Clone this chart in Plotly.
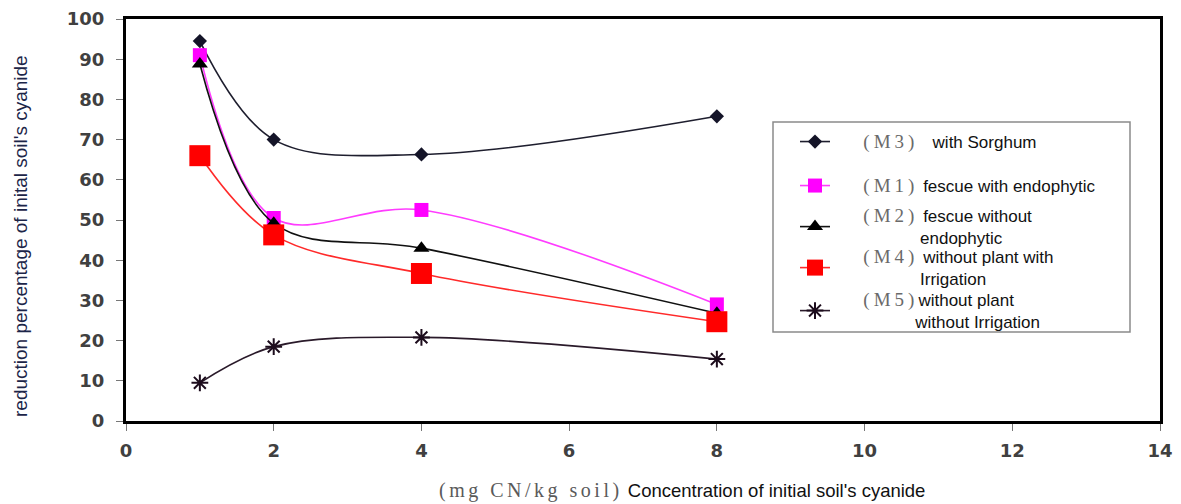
import plotly.graph_objects as go

# ---- data ----
conc = [1, 2, 4, 8]  # mg CN / kg soil
m3_sorghum = [94.5, 70.0, 66.3, 75.8]
m1_fescue_endo = [91.0, 50.5, 52.5, 29.0]
m2_fescue_noendo = [88.8, 49.2, 43.0, 26.8]
m4_noplant_irr = [66.0, 46.3, 36.7, 24.7]
m5_noplant_noirr = [9.5, 18.5, 20.8, 15.4]

x_ticks = [0, 2, 4, 6, 8, 10, 12, 14]
y_ticks = [0, 10, 20, 30, 40, 50, 60, 70, 80, 90, 100]

NB = "\u00a0"
CODE_STYLE = "font-family:Liberation Serif, serif;color:#6a6a6a;font-size:19px;letter-spacing:4px"

def lab(code, first, second=None, pad=1, indent=18):
    s = (NB * 6 + "<span style='" + CODE_STYLE + "'>(" + code + ")</span>" + NB * pad + first)
    if second is not None:
        s += "<br>" + NB * indent + second
    return s

series = [
    dict(y=m3_sorghum, name=lab("M3", "with Sorghum", pad=3), color="#141428", lc="#1e1e2e",
         symbol="diamond", size=11, lw=1.6, leg="legend"),
    dict(y=m1_fescue_endo, name=lab("M1", "fescue with endophytic", pad=1), color="#ff00ff", lc="#ff3cff",
         symbol="square", size=14, lw=1.6, leg="legend2"),
    dict(y=m2_fescue_noendo, name=lab("M2", "fescue without", "endophytic", pad=1, indent=18),
         color="#000000", lc="#111111", symbol="triangle-up", size=14, lw=1.6, leg="legend3"),
    dict(y=m4_noplant_irr, name=lab("M4", "without plant with", "Irrigation", pad=1, indent=18),
         color="#ff0000", lc="#ff2a2a", symbol="square", size=21, lw=1.6, leg="legend4"),
    dict(y=m5_noplant_noirr, name=lab("M5", "without plant", "without Irrigation", pad=0, indent=17),
         color="#1c0c1c", lc="#2a1a2a", symbol="asterisk-open", size=14, lw=1.6, leg="legend5"),
]

fig = go.Figure()
for s in series:
    fig.add_trace(go.Scatter(
        x=conc, y=s["y"], name=s["name"], mode="lines+markers",
        line=dict(color=s["lc"], width=s["lw"], shape="spline", smoothing=1.0),
        marker=dict(symbol=s["symbol"], size=s["size"], color=s["color"],
                    line=dict(color=s["color"], width=2 if "asterisk" in s["symbol"] else 0)),
        legend=s["leg"],
    ))

# page body adds an 8px offset, so the figure is sized to fit the window after it
OFF = 8
W, H = 1181 - OFF, 504 - OFF
L, R, T, B = 126 - OFF, 21, 19 - OFF, 83
pw, ph = W - L - R, H - T - B

def px(xs):  # screen x -> paper
    return (xs - OFF - L) / pw

def py(ys):  # screen y -> paper
    return (H - B - (ys - OFF)) / ph

legend_font = dict(family="Liberation Sans, Arial, sans-serif", size=17, color="#111111")
leg_y = [142, 186, 227, 268, 311]
legend_names = ["legend", "legend2", "legend3", "legend4", "legend5"]
layout_legends = {}
for nm, yy in zip(legend_names, leg_y):
    layout_legends[nm] = dict(
        x=px(795), y=py(yy), xanchor="left", yanchor="middle",
        bgcolor="rgba(0,0,0,0)", borderwidth=0, font=legend_font,
        itemsizing="trace", tracegroupgap=0,
    )

axis_common = dict(
    showline=True, linewidth=3, linecolor="#000000", mirror=True,
    ticks="outside", ticklen=7, tickwidth=1, tickcolor="#777777",
    showgrid=False, zeroline=False, automargin=False, ticklabeloverflow="allow",
    tickfont=dict(family="DejaVu Sans, sans-serif", size=18, color="#404040", weight="bold"),
)

fig.update_layout(
    width=W, height=H,
    margin=dict(l=L, r=R, t=T, b=B, autoexpand=False),
    paper_bgcolor="white", plot_bgcolor="white",
    showlegend=True,
    xaxis=dict(range=[0, 14], tickvals=x_ticks, ticklabelstandoff=4, **axis_common),
    yaxis=dict(range=[0, 100], tickvals=y_ticks, ticklabelstandoff=8, **axis_common),
    shapes=[dict(type="rect", xref="paper", yref="paper",
                 x0=px(773), x1=px(1130), y0=py(332), y1=py(122),
                 line=dict(color="#8a8a8a", width=1.5), fillcolor="rgba(0,0,0,0)", layer="below")],
    annotations=[
        dict(xref="paper", yref="paper", x=px(20), y=py(236), textangle=-90,
             text="reduction percentage of inital soil's cyanide", showarrow=False,
             font=dict(family="Liberation Sans, Arial, sans-serif", size=19, color="#1c2548"),
             xanchor="center", yanchor="middle"),
        dict(xref="paper", yref="paper", x=px(437), y=py(490), xanchor="left", yanchor="middle",
             text="<span style='font-family:Liberation Serif, serif;color:#5a5a5a;font-size:20px;letter-spacing:3.5px'>(mg CN/kg soil)</span>"
                  + NB + "Concentration of initial soil's cyanide",
             showarrow=False,
             font=dict(family="Liberation Sans, Arial, sans-serif", size=18.5, color="#111111")),
    ],
    **layout_legends,
)

fig.write_html("out.html")
